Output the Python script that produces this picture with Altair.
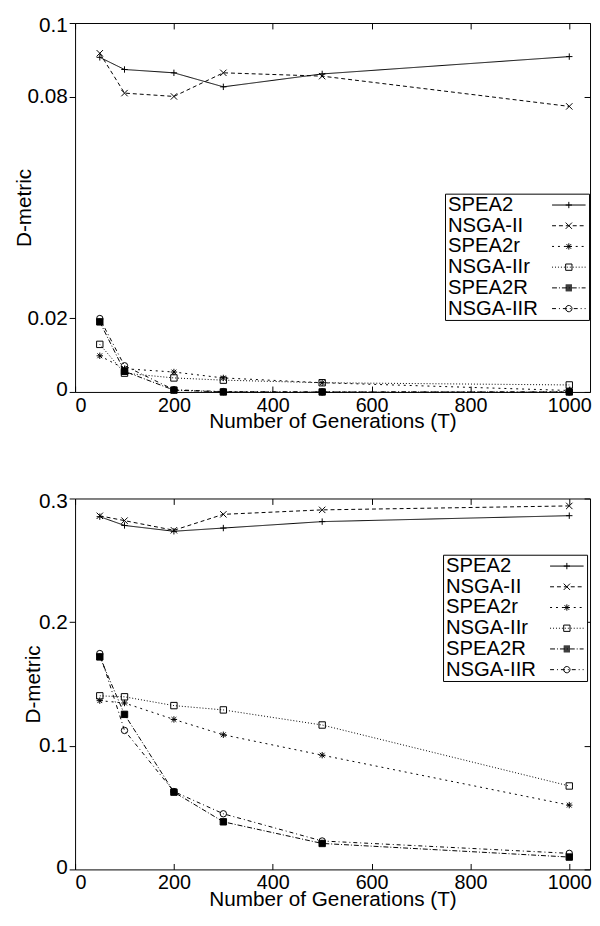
import math
import altair as alt
import pandas as pd

# ---------------- data ----------------
gens = [50, 100, 200, 300, 500, 1000]
series = ["SPEA2", "NSGA-II", "SPEA2r", "NSGA-IIr", "SPEA2R", "NSGA-IIR"]

top_spea2 = [0.0907, 0.0874, 0.0865, 0.0827, 0.0862, 0.0909]
top_nsga2 = [0.0918, 0.0810, 0.0801, 0.0865, 0.0856, 0.0774]
top_spea2r = [0.0098, 0.0063, 0.0054, 0.0038, 0.0025, 0.0004]
top_nsga2r = [0.0129, 0.0051, 0.0038, 0.0032, 0.0025, 0.0019]
top_spea2R = [0.0190, 0.0056, 0.0005, 0.0000, 0.0000, 0.0000]
top_nsga2R = [0.0199, 0.0071, 0.0006, 0.0001, 0.0000, 0.0000]

bot_spea2 = [0.2853, 0.2782, 0.2735, 0.2761, 0.2813, 0.2861]
bot_nsga2 = [0.2860, 0.2821, 0.2743, 0.2872, 0.2908, 0.2940]
bot_spea2r = [0.1365, 0.1346, 0.1213, 0.1089, 0.0924, 0.0520]
bot_nsga2r = [0.1404, 0.1396, 0.1325, 0.1290, 0.1168, 0.0675]
bot_spea2R = [0.1719, 0.1254, 0.0625, 0.0385, 0.0210, 0.0100]
bot_nsga2R = [0.1746, 0.1124, 0.0630, 0.0450, 0.0230, 0.0130]

x_ticks = [0, 200, 400, 600, 800, 1000]
top_y_ticks = [0, 0.02, 0.08, 0.1]
bot_y_ticks = [0, 0.1, 0.2, 0.3]

FONT = "Liberation Sans"


def long_df(cols):
    rows = []
    for name, vals in zip(series, cols):
        for g, v in zip(gens, vals):
            rows.append({"series": name, "gen": g, "val": v})
    return pd.DataFrame(rows)


top_df = long_df([top_spea2, top_nsga2, top_spea2r, top_nsga2r, top_spea2R, top_nsga2R])
bot_df = long_df([bot_spea2, bot_nsga2, bot_spea2r, bot_nsga2r, bot_spea2R, bot_nsga2R])

# ---------------- styles ----------------
dashes = [[1, 0], [4, 3], [2, 4], [1, 2], [5, 2, 1, 2], [4, 3, 1, 3]]
point_shapes = [
    "M-1,0L1,0M0,-1L0,1",
    "M-1,-1L1,1M-1,1L1,-1",
    "M-1,0L1,0M0,-1L0,1M-0.75,-0.75L0.75,0.75M-0.75,0.75L0.75,-0.75",
    "square",
    "square",
    "circle",
]
point_fills = ["transparent", "transparent", "transparent", "transparent", "black", "transparent"]

# legend symbols: line sample + marker drawn as a path (px / LEG_HALF units)
LEG_SIZE = 400
LEG_HALF = math.sqrt(LEG_SIZE) / 2.0
HALF_SPAN = 17


def f(v):
    return f"{v / LEG_HALF:.3f}"


def line_sample(pattern):
    segs = []
    x = -HALF_SPAN
    i = 0
    on = True
    while x < HALF_SPAN:
        L = pattern[i % len(pattern)]
        if on and L > 0:
            segs.append((x, min(x + L, HALF_SPAN)))
        x += L
        i += 1
        on = not on
    return "".join(f"M{f(a)},0L{f(b)},0" for a, b in segs)


def seg(x1, y1, x2, y2):
    return f"M{f(x1)},{f(y1)}L{f(x2)},{f(y2)}"


m = 3.2
markers = [
    seg(-m, 0, m, 0) + seg(0, -m, 0, m),
    seg(-m, -m, m, m) + seg(-m, m, m, -m),
    seg(-m, 0, m, 0) + seg(0, -m, 0, m) + seg(-2.4, -2.4, 2.4, 2.4) + seg(-2.4, 2.4, 2.4, -2.4),
    seg(-m, -m, m, -m) + seg(m, -m, m, m) + seg(m, m, -m, m) + seg(-m, m, -m, -m),
    "".join(seg(-m, y, m, y) for y in [-3, -2, -1, 0, 1, 2, 3]),
    "".join(
        seg(m * math.cos(2 * math.pi * k / 14), m * math.sin(2 * math.pi * k / 14),
            m * math.cos(2 * math.pi * (k + 1) / 14), m * math.sin(2 * math.pi * (k + 1) / 14))
        for k in range(14)
    ),
]
legend_paths = [line_sample(d if d != [1, 0] else [40]) + mk for d, mk in zip(dashes, markers)]


def panel(df, yticks, ydom, xmax, W, H, lx, ly, ytitle_pad):
    base = alt.Chart(df)
    xs = alt.Scale(domain=[0, xmax], nice=False, zero=False)
    ys = alt.Scale(domain=ydom, nice=False, zero=False)
    lines = base.mark_line(color="black", strokeWidth=1).encode(
        x=alt.X("gen:Q", scale=xs, axis=alt.Axis(
            values=x_ticks, orient="bottom", title="Number of Generations (T)", format="d",
            ticks=False, tickSize=0, domain=False, grid=False, labelPadding=3.5,
            titlePadding=-4, labelFontSize=20, titleFontSize=21, labelFont=FONT,
            titleFont=FONT, titleFontWeight="normal", labelColor="black", titleColor="black")),
        y=alt.Y("val:Q", scale=ys, axis=alt.Axis(
            values=yticks, orient="left", title="D-metric", format="~g",
            ticks=True, tickSize=6, tickColor="black", domain=False, grid=False,
            labelFlush=True, labelFlushOffset=8,
            labelPadding=2, titlePadding=ytitle_pad, labelFontSize=21, titleFontSize=21,
            labelFont=FONT, titleFont=FONT, titleFontWeight="normal",
            labelColor="black", titleColor="black")),
        strokeDash=alt.StrokeDash("series:N", scale=alt.Scale(domain=series, range=dashes), legend=None),
        detail="series:N",
    )
    pts = base.mark_point(stroke="black", strokeWidth=1, opacity=1, size=42).encode(
        x=alt.X("gen:Q", scale=xs, axis=alt.Axis(
            values=x_ticks, orient="top", offset=-H, labels=False, domain=False,
            grid=False, title=None, tickSize=6, tickColor="black")),
        y=alt.Y("val:Q", scale=ys, axis=alt.Axis(
            values=yticks, orient="left", offset=-W, labels=False, domain=False,
            grid=False, title=None, tickSize=6, tickColor="black")),
        shape=alt.Shape("series:N", scale=alt.Scale(domain=series, range=point_shapes), legend=None),
        fill=alt.Fill("series:N", scale=alt.Scale(domain=series, range=point_fills), legend=None),
    )
    leg = base.transform_filter("false").mark_point(
        stroke="black", fill="transparent", strokeWidth=1, opacity=1, size=LEG_SIZE
    ).encode(
        x=alt.X("gen:Q", scale=xs, axis=alt.Axis(
            values=x_ticks, orient="bottom", offset=-H, labels=False, domain=False,
            grid=False, title=None, tickSize=6, tickColor="black")),
        y=alt.Y("val:Q", scale=ys, axis=None),
        shape=alt.Shape("series:N", scale=alt.Scale(domain=series, range=legend_paths),
                        legend=alt.Legend(
                            title=None, orient="none", legendX=lx, legendY=ly,
                            labelFont=FONT, labelFontSize=20.5, labelColor="black",
                            labelAlign="left", symbolOffset=114,
                            labelOffset={"expr": "-133"},
                            labelLimit=300, rowPadding=0, padding=1,
                            strokeColor="black", fillColor="white",
                            symbolStrokeColor="black", symbolFillColor="transparent",
                            symbolStrokeWidth=1, symbolSize=LEG_SIZE, symbolOpacity=1)),
    )
    return (
        alt.layer(lines, pts, leg)
        .resolve_scale(shape="independent")
        .resolve_axis(x="independent", y="independent")
        .properties(width=W, height=H)
    )


top = panel(top_df, top_y_ticks, [0, 0.1], 1042, 522, 374, 375, 173, -8)
bot = panel(bot_df, bot_y_ticks, [0, 0.3], 1042, 522, 376, 373, 57, -5)

chart = (
    alt.vconcat(top, bot, spacing=58)
    .properties(padding={"left": 5, "top": 0, "right": 0, "bottom": 0}, background="white")
    .configure_view(stroke="black", strokeWidth=1)
)

chart.save("out.html", embed_options={"renderer": "svg", "actions": False})
